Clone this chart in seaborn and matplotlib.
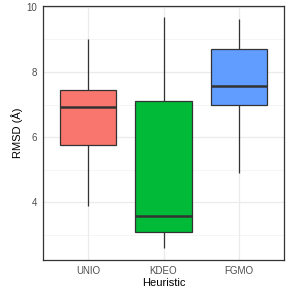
import matplotlib
matplotlib.use("Agg")
import matplotlib.pyplot as plt
import seaborn as sns
import pandas as pd
import numpy as np

categories = ["UNIO", "KDEO", "FGMO"]
# five-number summaries: min, Q1, median, Q3, max
unio = [3.89, 5.76, 6.91, 7.45, 9.02]
kdeo = [2.58, 3.07, 3.57, 7.11, 9.70]
fgmo = [4.88, 7.00, 7.58, 8.70, 9.63]
colors = ["#F8766D", "#00BA38", "#619CFF"]

df = pd.DataFrame({
    "Heuristic": np.repeat(categories, 5),
    "RMSD": unio + kdeo + fgmo,
})

sns.set_style("white")
plt.rcParams["font.family"] = ["Liberation Sans", "DejaVu Sans"]

fig = plt.figure(figsize=(2.91, 2.91), dpi=100)
ax = fig.add_axes([43/291, 1 - 260/291, (284-43)/291, (260-6)/291])

# grid
ax.set_axisbelow(True)
for v in [3, 5, 7, 9]:
    ax.axhline(v, color="#F2F2F2", lw=0.5, zorder=0)
for v in [4, 6, 8, 10]:
    ax.axhline(v, color="#EBEBEB", lw=0.9, zorder=0)
for v in range(3):
    ax.axvline(v, color="#EBEBEB", lw=0.9, zorder=0)

sns.boxplot(data=df, x="Heuristic", y="RMSD", hue="Heuristic", order=categories,
            hue_order=categories, palette=colors, width=0.75, whis=np.inf,
            linecolor="#333333", linewidth=0.9, saturation=1, legend=False,
            medianprops={"linewidth": 1.8, "color": "#333333"},
            whiskerprops={"color": "#333333"}, capprops={"linewidth": 0},
            ax=ax)

ax.set_xlim(-0.6, 2.6)
ax.set_ylim(2.22, 10.03)
ax.set_yticks([4, 6, 8, 10])
ax.set_yticklabels(["4", "6", "8", "10"])
ax.tick_params(axis="both", length=2.5, width=0.6, color="#333333",
               labelsize=7, labelcolor="#4D4D4D", pad=1.5)
for s in ax.spines.values():
    s.set_color("#333333")
    s.set_linewidth(0.9)
ax.set_xlabel("Heuristic", fontsize=8, color="black", labelpad=2)
ax.set_ylabel("RMSD (Å)", fontsize=8, color="black", labelpad=3)

fig.savefig("out.png", dpi=100)
